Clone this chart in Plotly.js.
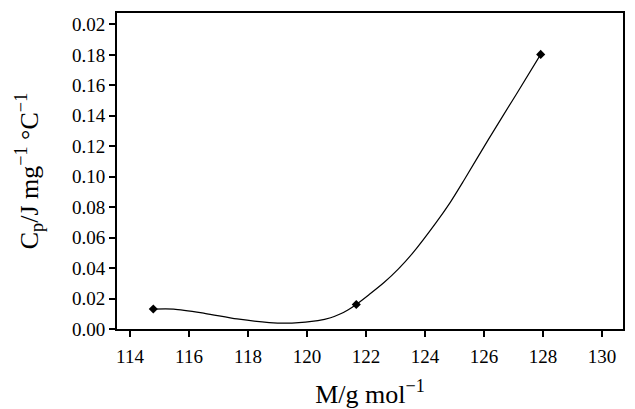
<!DOCTYPE html>
<html>
<head>
<meta charset="utf-8">
<script src="https://cdn.plot.ly/plotly-3.0.1.min.js"></script>
<style>
  html, body { margin: 0; padding: 0; background: #fff; }
  #chart { width: 635px; height: 409px; }
</style>
</head>
<body>
<div id="chart"></div>
<script>
// Measured heat capacity against molar mass
const molarMass = [114.79, 121.67, 127.92];
const heatCapacity = [0.0131, 0.0161, 0.1803];

// Smoothed fit curve through the measurements
const curveX = [114.79, 115.48, 116.53, 117.63, 118.72, 119.49, 120.37, 120.80, 121.14, 121.40, 121.67,
                122.10, 122.61, 123.10, 123.56, 124.38, 124.85, 125.33, 126.15, 127.09, 127.92];
const curveY = [0.0131, 0.0131, 0.0103, 0.0066, 0.0042, 0.0039, 0.0055, 0.0074, 0.0100, 0.0127, 0.0161,
                0.0225, 0.0305, 0.0395, 0.0493, 0.0700, 0.0830, 0.0980, 0.1245, 0.1540, 0.1803];

// Axis ticks
const xTicks = [114, 116, 118, 120, 122, 124, 126, 128, 130];
const yTickVals = [0, 0.02, 0.04, 0.06, 0.08, 0.10, 0.12, 0.14, 0.16, 0.18, 0.20];
const yTickText = ['0.00', '0.02', '0.04', '0.06', '0.08', '0.10', '0.12', '0.14', '0.16', '0.18', '0.02'];

const serif = 'Liberation Serif, Times New Roman, serif';

const traces = [
  {
    x: curveX, y: curveY, type: 'scatter', mode: 'lines',
    line: { color: '#000', width: 1.2, shape: 'spline', smoothing: 0.8, simplify: false },
    hoverinfo: 'skip', showlegend: false
  },
  {
    x: molarMass, y: heatCapacity, type: 'scatter', mode: 'markers',
    marker: { symbol: 'diamond', size: 7, color: '#000' },
    showlegend: false
  }
];

const axisCommon = {
  showgrid: false, zeroline: false,
  showline: true, linecolor: '#000', linewidth: 2, mirror: true,
  ticks: 'outside', ticklen: 6, tickwidth: 2, tickcolor: '#000',
  tickfont: { family: serif, size: 19, color: '#000' }
};

const layout = {
  width: 635, height: 409,
  margin: { l: 117, r: 12, t: 13, b: 80 },
  paper_bgcolor: '#fff', plot_bgcolor: '#fff',
  xaxis: Object.assign({}, axisCommon, {
    range: [113.56, 130.71],
    tickmode: 'array', tickvals: xTicks,
    ticklabelstandoff: 3,
    title: { text: 'M/g mol<sup>−1</sup>', font: { family: serif, size: 26, color: '#000' }, standoff: 19 }
  }),
  yaxis: Object.assign({}, axisCommon, {
    range: [0, 0.2075],
    tickmode: 'array', tickvals: yTickVals, ticktext: yTickText,
    title: { text: 'C<sub>p</sub>/J mg<sup>−1</sup> °C<sup>−1</sup>', font: { family: serif, size: 26, color: '#000' }, standoff: 26 }
  })
};

Plotly.newPlot('chart', traces, layout, { staticPlot: true, displayModeBar: false });
</script>
</body>
</html>
